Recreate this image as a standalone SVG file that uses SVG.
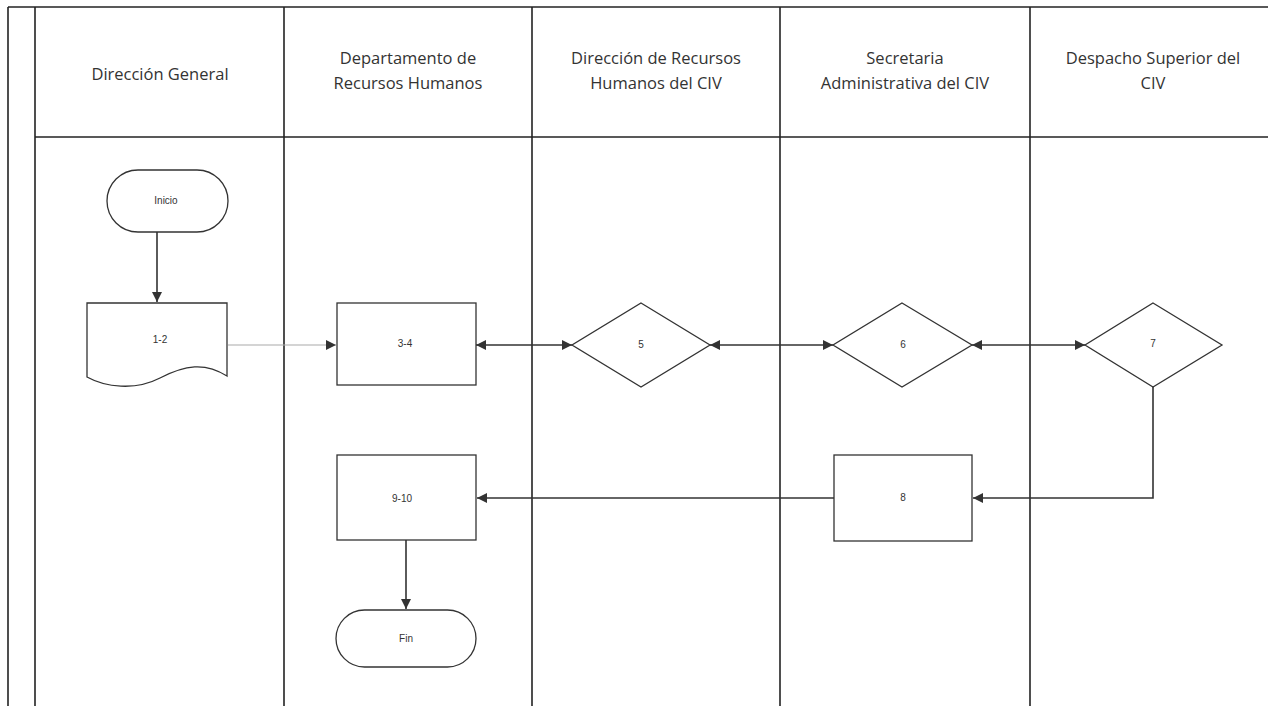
<svg xmlns="http://www.w3.org/2000/svg" width="1270" height="706" viewBox="0 0 1270 706">
<style>
.grid{stroke:#222;stroke-width:1.6;fill:none}
.shape{fill:#fff;stroke:#333;stroke-width:1.3}
.hdr{font-family:"Open Sans","Liberation Sans",sans-serif;font-size:16.5px;fill:#333;text-anchor:middle}
.lbl{font-family:"Liberation Sans",sans-serif;font-size:10px;fill:#333;text-anchor:middle;dominant-baseline:middle}
.con{stroke:#333;stroke-width:1.6;fill:none}
.con.light{stroke:#aaa;stroke-width:1.2}
</style>
<defs>
<marker id="ah" viewBox="0 0 10 10" refX="10" refY="5" markerWidth="11" markerHeight="10" orient="auto-start-reverse" markerUnits="userSpaceOnUse">
<path d="M0,0 L10,5 L0,10 Z" fill="#333"/>
</marker>
</defs>
<rect width="1270" height="706" fill="#fff"/>
<g id="lanes">
<line class="grid" x1="8" y1="7" x2="1268" y2="7"/>
<line class="grid" x1="8" y1="7" x2="8" y2="706"/>
<line class="grid" x1="35" y1="7" x2="35" y2="706"/>
<line class="grid" x1="35" y1="137" x2="1268" y2="137"/>
<line class="grid" x1="284" y1="7" x2="284" y2="706"/>
<line class="grid" x1="532" y1="7" x2="532" y2="706"/>
<line class="grid" x1="780" y1="7" x2="780" y2="706"/>
<line class="grid" x1="1030" y1="7" x2="1030" y2="706"/>
<text class="hdr" x="160" y="80">Dirección General</text>
<text class="hdr" x="408" y="64">Departamento de</text>
<text class="hdr" x="408" y="89">Recursos Humanos</text>
<text class="hdr" x="656" y="64">Dirección de Recursos</text>
<text class="hdr" x="656" y="89">Humanos del CIV</text>
<text class="hdr" x="905" y="64">Secretaria</text>
<text class="hdr" x="905" y="89">Administrativa del CIV</text>
<text class="hdr" x="1153" y="64">Despacho Superior del</text>
<text class="hdr" x="1153" y="89">CIV</text>
</g>
<g id="connectors">
<line class="con" x1="157" y1="232" x2="157" y2="302" marker-end="url(#ah)"/>
<line class="con light" x1="228" y1="345" x2="336" y2="345" marker-end="url(#ah)"/>
<line class="con" x1="476" y1="345" x2="572" y2="345" marker-start="url(#ah)" marker-end="url(#ah)"/>
<line class="con" x1="710" y1="345" x2="833" y2="345" marker-start="url(#ah)" marker-end="url(#ah)"/>
<line class="con" x1="972" y1="345" x2="1085" y2="345" marker-start="url(#ah)" marker-end="url(#ah)"/>
<polyline class="con" points="1153,386 1153,498 973,498" marker-end="url(#ah)"/>
<line class="con" x1="834" y1="498" x2="477" y2="498" marker-end="url(#ah)"/>
<line class="con" x1="406" y1="540" x2="406" y2="609" marker-end="url(#ah)"/>
</g>
<g id="inicio">
<rect class="shape" x="107" y="170" width="121" height="62" rx="31"/>
<text class="lbl" x="166" y="201">Inicio</text>
</g>
<g id="n1-2">
<path class="shape" d="M87,303 H227 V376 C205,362 185,365 160,378 C135,391 105,387 87,377 Z"/>
<text class="lbl" x="160" y="340">1-2</text>
</g>
<g id="n3-4">
<rect class="shape" x="337" y="303" width="139" height="82"/>
<text class="lbl" x="405" y="344">3-4</text>
</g>
<g id="n5">
<polygon class="shape" points="641,303 710,345 641,387 572,345"/>
<text class="lbl" x="641" y="345">5</text>
</g>
<g id="n6">
<polygon class="shape" points="902,303 972,345 902,387 833,345"/>
<text class="lbl" x="903" y="345">6</text>
</g>
<g id="n7">
<polygon class="shape" points="1153,303 1222,345 1153,387 1085,345"/>
<text class="lbl" x="1153" y="344">7</text>
</g>
<g id="n8">
<rect class="shape" x="834" y="455" width="138" height="86"/>
<text class="lbl" x="903" y="498">8</text>
</g>
<g id="n9-10">
<rect class="shape" x="337" y="455" width="139" height="85"/>
<text class="lbl" x="402" y="499">9-10</text>
</g>
<g id="fin">
<rect class="shape" x="336" y="610" width="140" height="57" rx="28.5"/>
<text class="lbl" x="406" y="639">Fin</text>
</g>
</svg>
